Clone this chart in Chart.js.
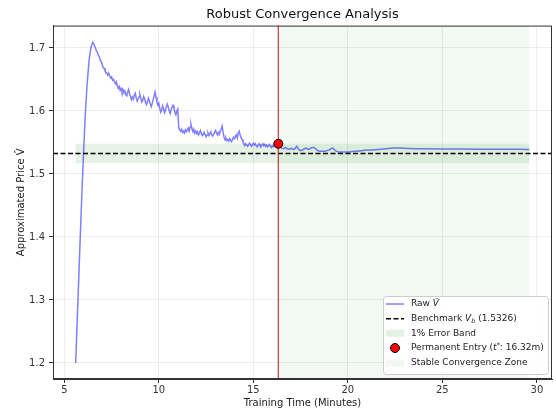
<!DOCTYPE html>
<html>
<head>
<meta charset="utf-8">
<script src="https://cdn.jsdelivr.net/npm/chart.js@4.4.1/dist/chart.umd.min.js"></script>
<style>
  html, body { margin: 0; padding: 0; background: #fff; }
  #wrap { width: 556px; height: 410px; }
</style>
</head>
<body>
<div id="wrap"><canvas id="chart"></canvas></div>
<script>
// --- data ---
const times = [
  5.60, 5.70, 5.80, 5.90, 6.00, 6.10, 6.20, 6.30, 6.40, 6.50,
  6.55, 6.60, 6.65, 6.70, 6.75, 6.80, 6.85, 6.90, 6.95, 7.00,
  7.05, 7.10, 7.15, 7.20, 7.25, 7.30, 7.35, 7.40, 7.45, 7.50,
  7.55, 7.60, 7.65, 7.70, 7.75, 7.80, 7.85, 7.90, 7.95, 8.00,
  8.05, 8.10, 8.15, 8.20, 8.25, 8.30, 8.35, 8.40, 8.45, 8.50,
  8.55, 8.60, 8.65, 8.70, 8.75, 8.80, 8.85, 8.90, 8.95, 9.00,
  9.05, 9.10, 9.15, 9.20, 9.25, 9.30, 9.35, 9.40, 9.45, 9.50,
  9.55, 9.60, 9.65, 9.70, 9.75, 9.80, 9.85, 9.90, 9.95, 10.00,
  10.05, 10.10, 10.15, 10.20, 10.25, 10.30, 10.35, 10.40, 10.45, 10.50,
  10.55, 10.60, 10.65, 10.70, 10.75, 10.80, 10.85, 10.90, 10.95, 11.00,
  11.05, 11.10, 11.15, 11.20, 11.25, 11.30, 11.35, 11.40, 11.45, 11.50,
  11.55, 11.60, 11.65, 11.70, 11.75, 11.80, 11.85, 11.90, 11.95, 12.00,
  12.05, 12.10, 12.15, 12.20, 12.25, 12.30, 12.35, 12.40, 12.45, 12.50,
  12.55, 12.60, 12.65, 12.70, 12.75, 12.80, 12.85, 12.90, 12.95, 13.00,
  13.05, 13.10, 13.15, 13.20, 13.25, 13.30, 13.35, 13.40, 13.45, 13.50,
  13.55, 13.60, 13.65, 13.70, 13.75, 13.80, 13.85, 13.90, 13.95, 14.00,
  14.05, 14.10, 14.15, 14.20, 14.25, 14.30, 14.35, 14.40, 14.45, 14.50,
  14.55, 14.60, 14.65, 14.70, 14.75, 14.80, 14.85, 14.90, 14.95, 15.00,
  15.05, 15.10, 15.15, 15.20, 15.25, 15.30, 15.35, 15.40, 15.45, 15.50,
  15.55, 15.60, 15.65, 15.70, 15.75, 15.80, 15.85, 15.90, 15.95, 16.00,
  16.05, 16.10, 16.15, 16.20, 16.25, 16.32, 16.40, 16.50, 16.60, 16.70,
  16.80, 16.90, 17.00, 17.10, 17.20, 17.30, 17.40, 17.50, 17.60, 17.70,
  17.80, 17.90, 18.00, 18.10, 18.20, 18.30, 18.40, 18.50, 18.60, 18.70,
  18.80, 18.90, 19.00, 19.10, 19.20, 19.30, 19.40, 19.50, 19.70, 19.90,
  20.10, 20.30, 20.50, 20.70, 21.00, 21.30, 21.60, 22.00, 22.40, 22.80,
  23.20, 23.60, 24.00, 25.00, 26.00, 27.00, 28.00, 29.00, 29.60
];
const prices = [
  1.200, 1.283, 1.366, 1.447, 1.522, 1.590, 1.640, 1.678, 1.700, 1.709,
  1.707, 1.703, 1.700, 1.695, 1.693, 1.688, 1.686, 1.681, 1.678, 1.674,
  1.669, 1.668, 1.664, 1.662, 1.660, 1.657, 1.660, 1.655, 1.652, 1.654,
  1.649, 1.650, 1.646, 1.643, 1.646, 1.640, 1.636, 1.639, 1.633, 1.636,
  1.630, 1.634, 1.629, 1.632, 1.626, 1.624, 1.630, 1.634, 1.627, 1.623,
  1.618, 1.622, 1.619, 1.625, 1.628, 1.621, 1.616, 1.619, 1.622, 1.626,
  1.620, 1.614, 1.617, 1.623, 1.619, 1.613, 1.610, 1.615, 1.620, 1.616,
  1.611, 1.607, 1.612, 1.618, 1.624, 1.630, 1.622, 1.614, 1.609, 1.612,
  1.604, 1.598, 1.602, 1.608, 1.603, 1.597, 1.601, 1.607, 1.611, 1.606,
  1.600, 1.596, 1.602, 1.606, 1.609, 1.604, 1.598, 1.594, 1.600, 1.603,
  1.574, 1.570, 1.568, 1.571, 1.566, 1.568, 1.565, 1.570, 1.567, 1.570,
  1.573, 1.568, 1.574, 1.579, 1.572, 1.567, 1.571, 1.565, 1.568, 1.564,
  1.567, 1.562, 1.565, 1.569, 1.564, 1.561, 1.563, 1.566, 1.562, 1.559,
  1.562, 1.565, 1.561, 1.564, 1.567, 1.562, 1.560, 1.563, 1.566, 1.569,
  1.565, 1.562, 1.566, 1.563, 1.568, 1.571, 1.576, 1.566, 1.558, 1.554,
  1.557, 1.553, 1.555, 1.552, 1.556, 1.553, 1.551, 1.555, 1.558, 1.556,
  1.560, 1.562, 1.557, 1.565, 1.568, 1.562, 1.558, 1.555, 1.551, 1.548,
  1.545, 1.548, 1.546, 1.544, 1.547, 1.549, 1.546, 1.544, 1.547, 1.549,
  1.546, 1.548, 1.545, 1.543, 1.546, 1.548, 1.545, 1.543, 1.546, 1.548,
  1.545, 1.547, 1.544, 1.546, 1.543, 1.545, 1.547, 1.544, 1.542, 1.545,
  1.543, 1.546, 1.544, 1.545, 1.547, 1.548, 1.544, 1.541, 1.540, 1.542,
  1.540, 1.539, 1.541, 1.539, 1.540, 1.544, 1.539, 1.537, 1.538, 1.540,
  1.541, 1.539, 1.540, 1.542, 1.542, 1.540, 1.537, 1.536, 1.536, 1.536,
  1.536, 1.537, 1.538, 1.540, 1.541, 1.538, 1.536, 1.535, 1.535, 1.535,
  1.535, 1.536, 1.536, 1.537, 1.538, 1.538, 1.539, 1.540, 1.541, 1.541,
  1.5405, 1.540, 1.540, 1.5398, 1.5396, 1.5394, 1.5392, 1.5391, 1.5390
];
const benchmark = 1.5326;
const bandPct = 0.01;
const entryTime = 16.32;
const entryPrice = 1.548;
const xTicks = [5, 10, 15, 20, 25, 30];
const yTicks = [1.2, 1.3, 1.4, 1.5, 1.6, 1.7];

const FONT = "'DejaVu Sans', sans-serif";
const lineColor = "rgba(0, 0, 255, 0.5)";

// spans + benchmark line behind the curve
const backdrop = {
    id: "backdrop",
    beforeDatasetsDraw(chart) {
        const {ctx, chartArea: a, scales: {x, y}} = chart;
        const t0 = x.getPixelForValue(times[0]);
        const t1 = x.getPixelForValue(times[times.length - 1]);
        const te = x.getPixelForValue(entryTime);
        ctx.save();
        // stable convergence zone
        ctx.fillStyle = "rgba(0, 128, 0, 0.05)";
        ctx.fillRect(te, a.top, t1 - te, a.bottom - a.top);
        // 1% error band
        const yHi = y.getPixelForValue(benchmark * (1 + bandPct));
        const yLo = y.getPixelForValue(benchmark * (1 - bandPct));
        ctx.fillStyle = "rgba(0, 128, 0, 0.1)";
        ctx.fillRect(t0, yHi, t1 - t0, yLo - yHi);
        ctx.restore();
    },
    afterDatasetsDraw(chart) {
        const {ctx, chartArea: a, scales: {x, y}} = chart;
        ctx.save();
        // benchmark
        const yb = y.getPixelForValue(benchmark);
        ctx.strokeStyle = "#000";
        ctx.lineWidth = 1.5;
        ctx.setLineDash([5, 2.5]);
        ctx.beginPath();
        ctx.moveTo(a.left, yb);
        ctx.lineTo(a.right, yb);
        ctx.stroke();
        // entry time
        const te = x.getPixelForValue(entryTime);
        ctx.setLineDash([]);
        ctx.strokeStyle = "rgba(190, 20, 20, 0.85)";
        ctx.lineWidth = 1.2;
        ctx.beginPath();
        ctx.moveTo(te, a.top);
        ctx.lineTo(te, a.bottom);
        ctx.stroke();
        // red marker on top
        const yp = y.getPixelForValue(entryPrice);
        ctx.fillStyle = "#ff0000";
        ctx.strokeStyle = "#000";
        ctx.lineWidth = 1;
        ctx.beginPath();
        ctx.arc(te, yp, 4.5, 0, Math.PI * 2);
        ctx.fill();
        ctx.stroke();
        ctx.restore();
    },
    afterDraw(chart) {
        const {ctx, chartArea: a} = chart;
        ctx.save();
        ctx.strokeStyle = "#333";
        ctx.lineWidth = 1;
        ctx.strokeRect(a.left + 0.5, a.top + 0.5, a.right - a.left - 1, a.bottom - a.top - 1);
        drawLegend(ctx);
        ctx.restore();
    }
};

// text made of runs: [text, italic, shift(-up / +down), scale]
function runs(ctx, parts, x, y) {
    for (const [t, it, dy, sc] of parts) {
        ctx.font = (it ? "italic " : "") + (9 * (sc || 1)) + "px " + FONT;
        ctx.fillText(t, x, y + (dy || 0));
        x += ctx.measureText(t).width;
    }
}

function drawLegend(ctx) {
    const bx = 383, by = 296, bw = 165, bh = 78;
    ctx.fillStyle = "rgba(255,255,255,0.85)";
    ctx.strokeStyle = "#cccccc";
    ctx.lineWidth = 1;
    ctx.beginPath();
    ctx.roundRect(bx + 0.5, by + 0.5, bw, bh, 3);
    ctx.fill();
    ctx.stroke();

    const hx0 = 386, hx1 = 404, tx = 411;
    const rows = [304, 318.7, 333.3, 348, 363];
    ctx.textBaseline = "middle";
    ctx.fillStyle = "#222";

    // Raw V̂
    ctx.strokeStyle = lineColor; ctx.lineWidth = 1.5;
    ctx.beginPath(); ctx.moveTo(hx0, rows[0]); ctx.lineTo(hx1, rows[0]); ctx.stroke();
    ctx.fillStyle = "#222";
    runs(ctx, [["Raw ", false], ["V\u0302", true]], tx, rows[0]);

    // Benchmark
    ctx.strokeStyle = "#000"; ctx.setLineDash([5, 2.5]);
    ctx.beginPath(); ctx.moveTo(hx0, rows[1]); ctx.lineTo(hx1, rows[1]); ctx.stroke();
    ctx.setLineDash([]);
    runs(ctx, [["Benchmark ", false], ["V", true], ["b", true, 2.5, 0.7], [" (" + benchmark + ")", false]], tx, rows[1]);

    // error band
    ctx.fillStyle = "rgba(0, 128, 0, 0.1)";
    ctx.fillRect(hx0, rows[2] - 3.5, hx1 - hx0, 7);
    ctx.fillStyle = "#222";
    runs(ctx, [["1% Error Band", false]], tx, rows[2]);

    // entry
    ctx.fillStyle = "#ff0000"; ctx.strokeStyle = "#000"; ctx.lineWidth = 1;
    ctx.beginPath(); ctx.arc((hx0 + hx1) / 2, rows[3], 4.5, 0, Math.PI * 2); ctx.fill(); ctx.stroke();
    ctx.fillStyle = "#222";
    runs(ctx, [["Permanent Entry (", false], ["t", true], ["*", false, -3, 0.7], [": " + entryTime + "m)", false]], tx, rows[3]);

    // stable zone
    ctx.fillStyle = "rgba(0, 128, 0, 0.05)";
    ctx.fillRect(hx0, rows[4] - 3.5, hx1 - hx0, 7);
    ctx.fillStyle = "#222";
    runs(ctx, [["Stable Convergence Zone", false]], tx, rows[4]);
}

const tickFont = {family: FONT, size: 10};

new Chart(document.getElementById("chart"), {
    type: "line",
    data: {
        datasets: [{
            label: "Raw V\u0302",
            data: times.map((t, i) => ({x: t, y: prices[i]})),
            borderColor: lineColor,
            borderWidth: 1.5,
            pointRadius: 0,
            tension: 0,
            fill: false,
        }],
    },
    options: {
        responsive: true,
        maintainAspectRatio: false,
        animation: false,
        layout: {padding: {left: 0, right: 4, top: 0, bottom: 0}},
        plugins: {
            legend: {display: false},
            tooltip: {enabled: false},
            title: {
                display: true,
                text: "Robust Convergence Analysis",
                fullSize: false,
                color: "#111",
                font: {family: FONT, size: 13, weight: "normal"},
                padding: {top: 7, bottom: 3},
            },
        },
        scales: {
            x: {
                type: "linear",
                min: 4.4,
                max: 30.8,
                afterBuildTicks: (s) => { s.ticks = xTicks.map(v => ({value: v})); },
                afterFit: (s) => { s.height = 31; },
                ticks: {font: tickFont, color: "#333", padding: 1, maxRotation: 0},
                grid: {color: "rgba(0,0,0,0.07)", tickColor: "#333", tickLength: 4},
                border: {display: true, color: "#333"},
                title: {
                    display: true,
                    text: "Training Time (Minutes)",
                    font: tickFont,
                    color: "#222",
                    padding: {top: 0, bottom: 1},
                },
            },
            y: {
                min: 1.1745,
                max: 1.7355,
                afterBuildTicks: (s) => { s.ticks = yTicks.map(v => ({value: v})); },
                afterFit: (s) => { s.width = 53; },
                ticks: {font: tickFont, color: "#333", padding: 4, callback: (v) => v.toFixed(1)},
                grid: {color: "rgba(0,0,0,0.07)", tickColor: "#333", tickLength: 4},
                border: {display: true, color: "#333"},
                title: {
                    display: true,
                    text: "Approximated Price V\u0302",
                    font: tickFont,
                    color: "#222",
                    padding: {top: 15, bottom: 0},
                },
            },
        },
    },
    plugins: [backdrop],
});
</script>
</body>
</html>
